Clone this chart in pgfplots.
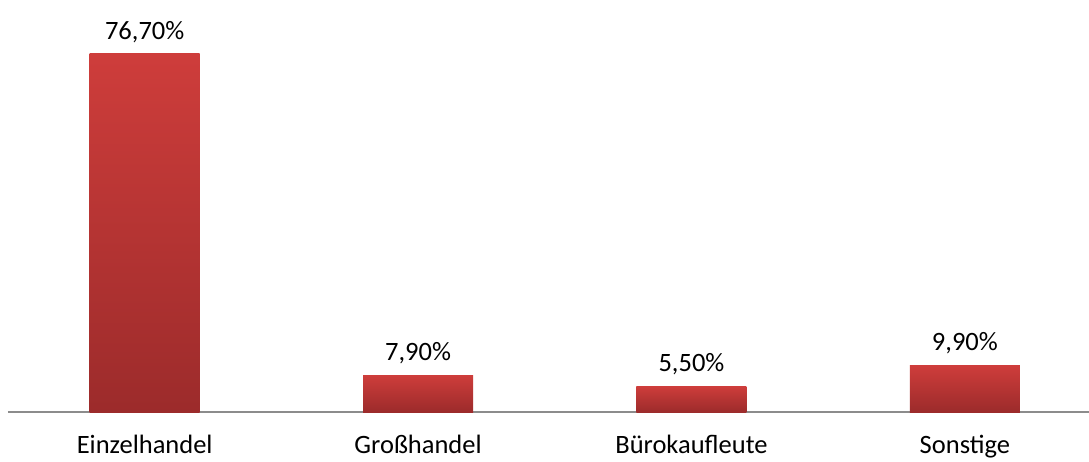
\documentclass[border=0pt]{standalone}
\usepackage{pgfplots}
\pgfplotsset{compat=1.18}
\usepackage{fontspec}
\setmainfont{Carlito}
\definecolor{bartop}{HTML}{CE3D3B}
\definecolor{barbot}{HTML}{9C2B2B}
\definecolor{axgray}{HTML}{8C8C8C}
\begin{document}
\begin{tikzpicture}
\useasboundingbox (0,0) rectangle (1089pt,461pt);
\begin{axis}[
  at={(8pt,49pt)}, anchor=south west,
  scale only axis,
  width=1081pt, height=412pt,
  xmin=-0.5, xmax=3.454,
  ymin=0, ymax=88.26,
  axis y line=none,
  axis x line*=bottom,
  axis line style={axgray, line width=1.2pt, -},
  xtick={0,1,2,3},
  xticklabels={Einzelhandel,Großhandel,Bürokaufleute,Sonstige},
  major tick length=0pt,
  xticklabel style={font=\fontsize{26.5}{30}\selectfont, text=black, yshift=-20pt},
  ybar, bar width=110pt, bar shift=0pt,
  clip=false,
  /pgf/number format/assume math mode=true,
  nodes near coords={\pgfmathprintnumber[fixed,fixed zerofill,precision=2,use comma]{\pgfplotspointmeta}\%},
  nodes near coords style={font=\fontsize{26.5}{30}\selectfont, text=black, anchor=south, yshift=8pt},
  every axis plot/.style={draw=none, shade, top color=bartop, bottom color=barbot},
]
\addplot coordinates {(0,76.7)};
\addplot coordinates {(1,7.9)};
\addplot coordinates {(2,5.5)};
\addplot coordinates {(3,9.9)};
\end{axis}
\end{tikzpicture}
\end{document}
